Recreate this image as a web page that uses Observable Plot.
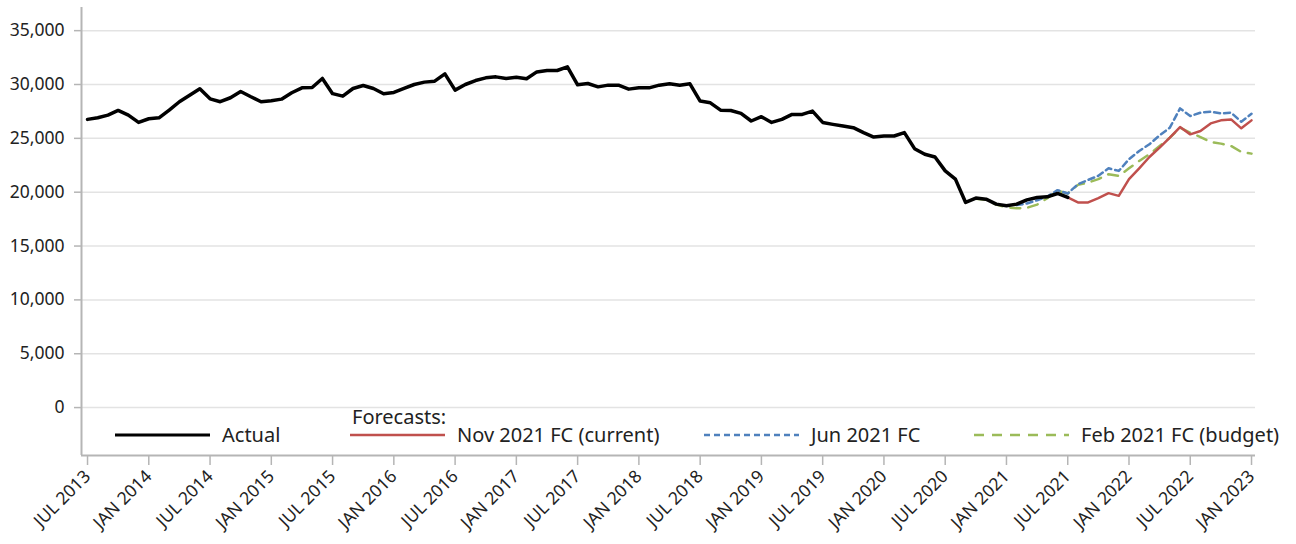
<!DOCTYPE html>
<html><head><meta charset="utf-8">
<script src="https://cdn.jsdelivr.net/npm/d3@7"></script>
<script src="https://cdn.jsdelivr.net/npm/@observablehq/plot@0.6"></script>
<style>
body{margin:0;background:#fff;font-family:"Noto Sans",sans-serif;}
#wrap{position:relative;width:1296px;height:544px;}
#legend{position:absolute;left:0;top:0;pointer-events:none;}
</style></head><body><div id="wrap"></div>
<script>
// ---- data ----
const firstMonth = "2013-07";
const xTickLabels = ["JUL 2013","JAN 2014","JUL 2014","JAN 2015","JUL 2015","JAN 2016","JUL 2016","JAN 2017","JUL 2017","JAN 2018","JUL 2018","JAN 2019","JUL 2019","JAN 2020","JUL 2020","JAN 2021","JUL 2021","JAN 2022","JUL 2022","JAN 2023"];
const yTicks = [0,5000,10000,15000,20000,25000,30000,35000];

const actualStart = "2013-07";
const actual = [26760,26910,27160,27590,27160,26480,26820,26910,27620,28400,29010,29600,
  28670,28400,28770,29350,28860,28400,28490,28640,29230,29690,29720,30560,
  29150,28920,29630,29910,29630,29140,29260,29630,30000,30220,30310,30990,
  29480,30000,30370,30620,30710,30560,30680,30530,31170,31300,31300,31640,
  29970,30090,29780,29940,29940,29570,29690,29690,29940,30060,29940,30060,
  28460,28300,27620,27590,27320,26610,27010,26480,26760,27220,27220,27530,
  26480,26300,26140,25990,25530,25120,25220,25220,25530,24040,23520,23270,
  21980,21210,19050,19450,19350,18890,18740,18890,19290,19510,19570,19880,19510];

const novStart = "2021-07";
const novFC = [19510,19050,19050,19450,19910,19660,21210,22220,23270,24140,25060,26050,25370,25680,26390,26670,26760,25930,26670];

const junStart = "2021-02";
const junFC = [18800,18950,19250,19600,20190,19880,20740,21140,21520,22220,21980,23060,23830,24450,25280,25990,27780,27070,27380,27470,27320,27380,26540,27280];

const febStart = "2020-10";
const febFC = [19400,19300,18850,18600,18500,18550,18850,19450,20130,19880,20680,20900,21210,21670,21510,22220,22900,23520,24290,25060,25990,25530,25120,24660,24510,24290,23740,23580];

const seriesNames = ["Actual","Nov 2021 FC (current)","Jun 2021 FC","Feb 2021 FC (budget)"];
const seriesColors = ["#000000","#c0504d","#4f81bd","#9bbb59"];

// ---- helpers ----
function monthIndex(s){const [y,m]=s.split("-").map(Number);const [y0,m0]=firstMonth.split("-").map(Number);return (y-y0)*12+(m-m0);}
function toRows(start, vals){const i0=monthIndex(start);return vals.map((v,i)=>({i:i0+i,v}));}
const rowsActual = toRows(actualStart, actual);
const rowsNov = toRows(novStart, novFC);
const rowsJun = toRows(junStart, junFC);
const rowsFeb = toRows(febStart, febFC);
const xTickIdx = xTickLabels.map((_,k)=>k*6);

const xDomain = [-0.59, 114.39];
const yDomain = [-4450, 37150];
const junDash = "6,4";
const febDash = "10,8";

const chart = Plot.plot({
  width: 1296, height: 544,
  marginLeft: 81, marginRight: 41, marginTop: 7, marginBottom: 89,
  style: {fontFamily: '"Noto Sans", sans-serif', fontSize: "17.5px", color: "#222", background: "#fff"},
  x: {type: "linear", domain: xDomain, axis: null, label: null},
  y: {domain: yDomain, axis: null, label: null},
  marks: [
    Plot.gridY(yTicks, {stroke: "#e3e3e3", strokeOpacity: 1, strokeWidth: 1.5}),
    Plot.axisY({ticks: yTicks, label: null, tickFormat: d3.format(","), tickSize: 7, tickPadding: 10, stroke: "#b5b5b5", strokeWidth: 1.5, fill: "#222"}),
    Plot.axisX({ticks: xTickIdx, label: null, tickFormat: (d) => xTickLabels[d/6], tickRotate: -45, tickSize: 10, tickPadding: 8, stroke: "#b5b5b5", strokeWidth: 1.5, fill: "#222"}),
    Plot.ruleX([xDomain[0]], {stroke: "#b5b5b5", strokeWidth: 2}),
    Plot.ruleY([yDomain[0]], {stroke: "#b5b5b5", strokeWidth: 2}),
    Plot.line(rowsFeb, {x: "i", y: "v", stroke: seriesColors[3], strokeWidth: 2.5, strokeDasharray: febDash}),
    Plot.line(rowsJun, {x: "i", y: "v", stroke: seriesColors[2], strokeWidth: 2.5, strokeDasharray: junDash}),
    Plot.line(rowsNov, {x: "i", y: "v", stroke: seriesColors[1], strokeWidth: 2.5}),
    Plot.line(rowsActual, {x: "i", y: "v", stroke: seriesColors[0], strokeWidth: 3.5, strokeLinejoin: "round"})
  ]
});
document.getElementById("wrap").appendChild(chart);

// ---- legend overlay (inside plot frame) ----
const ns = "http://www.w3.org/2000/svg";
const lg = document.createElementNS(ns, "svg");
lg.setAttribute("id","legend"); lg.setAttribute("width",1296); lg.setAttribute("height",544);
lg.style.fontFamily = '"Noto Sans", sans-serif';
const legendItems = [
  {name: seriesNames[0], color: seriesColors[0], w: 3, dash: null, x: 115},
  {name: seriesNames[1], color: seriesColors[1], w: 2.5, dash: null, x: 350},
  {name: seriesNames[2], color: seriesColors[2], w: 2.5, dash: junDash, x: 704},
  {name: seriesNames[3], color: seriesColors[3], w: 2.5, dash: febDash, x: 974}
];
const rowY = 435;
legendItems.forEach(it => {
  const l = document.createElementNS(ns,"line");
  l.setAttribute("x1",it.x); l.setAttribute("x2",it.x+95); l.setAttribute("y1",rowY); l.setAttribute("y2",rowY);
  l.setAttribute("stroke",it.color); l.setAttribute("stroke-width",it.w);
  if (it.dash) l.setAttribute("stroke-dasharray",it.dash);
  lg.appendChild(l);
  const t = document.createElementNS(ns,"text");
  t.setAttribute("x",it.x+107); t.setAttribute("y",rowY+7); t.setAttribute("font-size","20px"); t.setAttribute("fill","#222");
  t.textContent = it.name; lg.appendChild(t);
});
const ft = document.createElementNS(ns,"text");
ft.setAttribute("x",352); ft.setAttribute("y",424); ft.setAttribute("font-size","20px"); ft.setAttribute("fill","#222");
ft.textContent = "Forecasts:"; lg.appendChild(ft);
document.getElementById("wrap").appendChild(lg);
</script>
</body></html>
